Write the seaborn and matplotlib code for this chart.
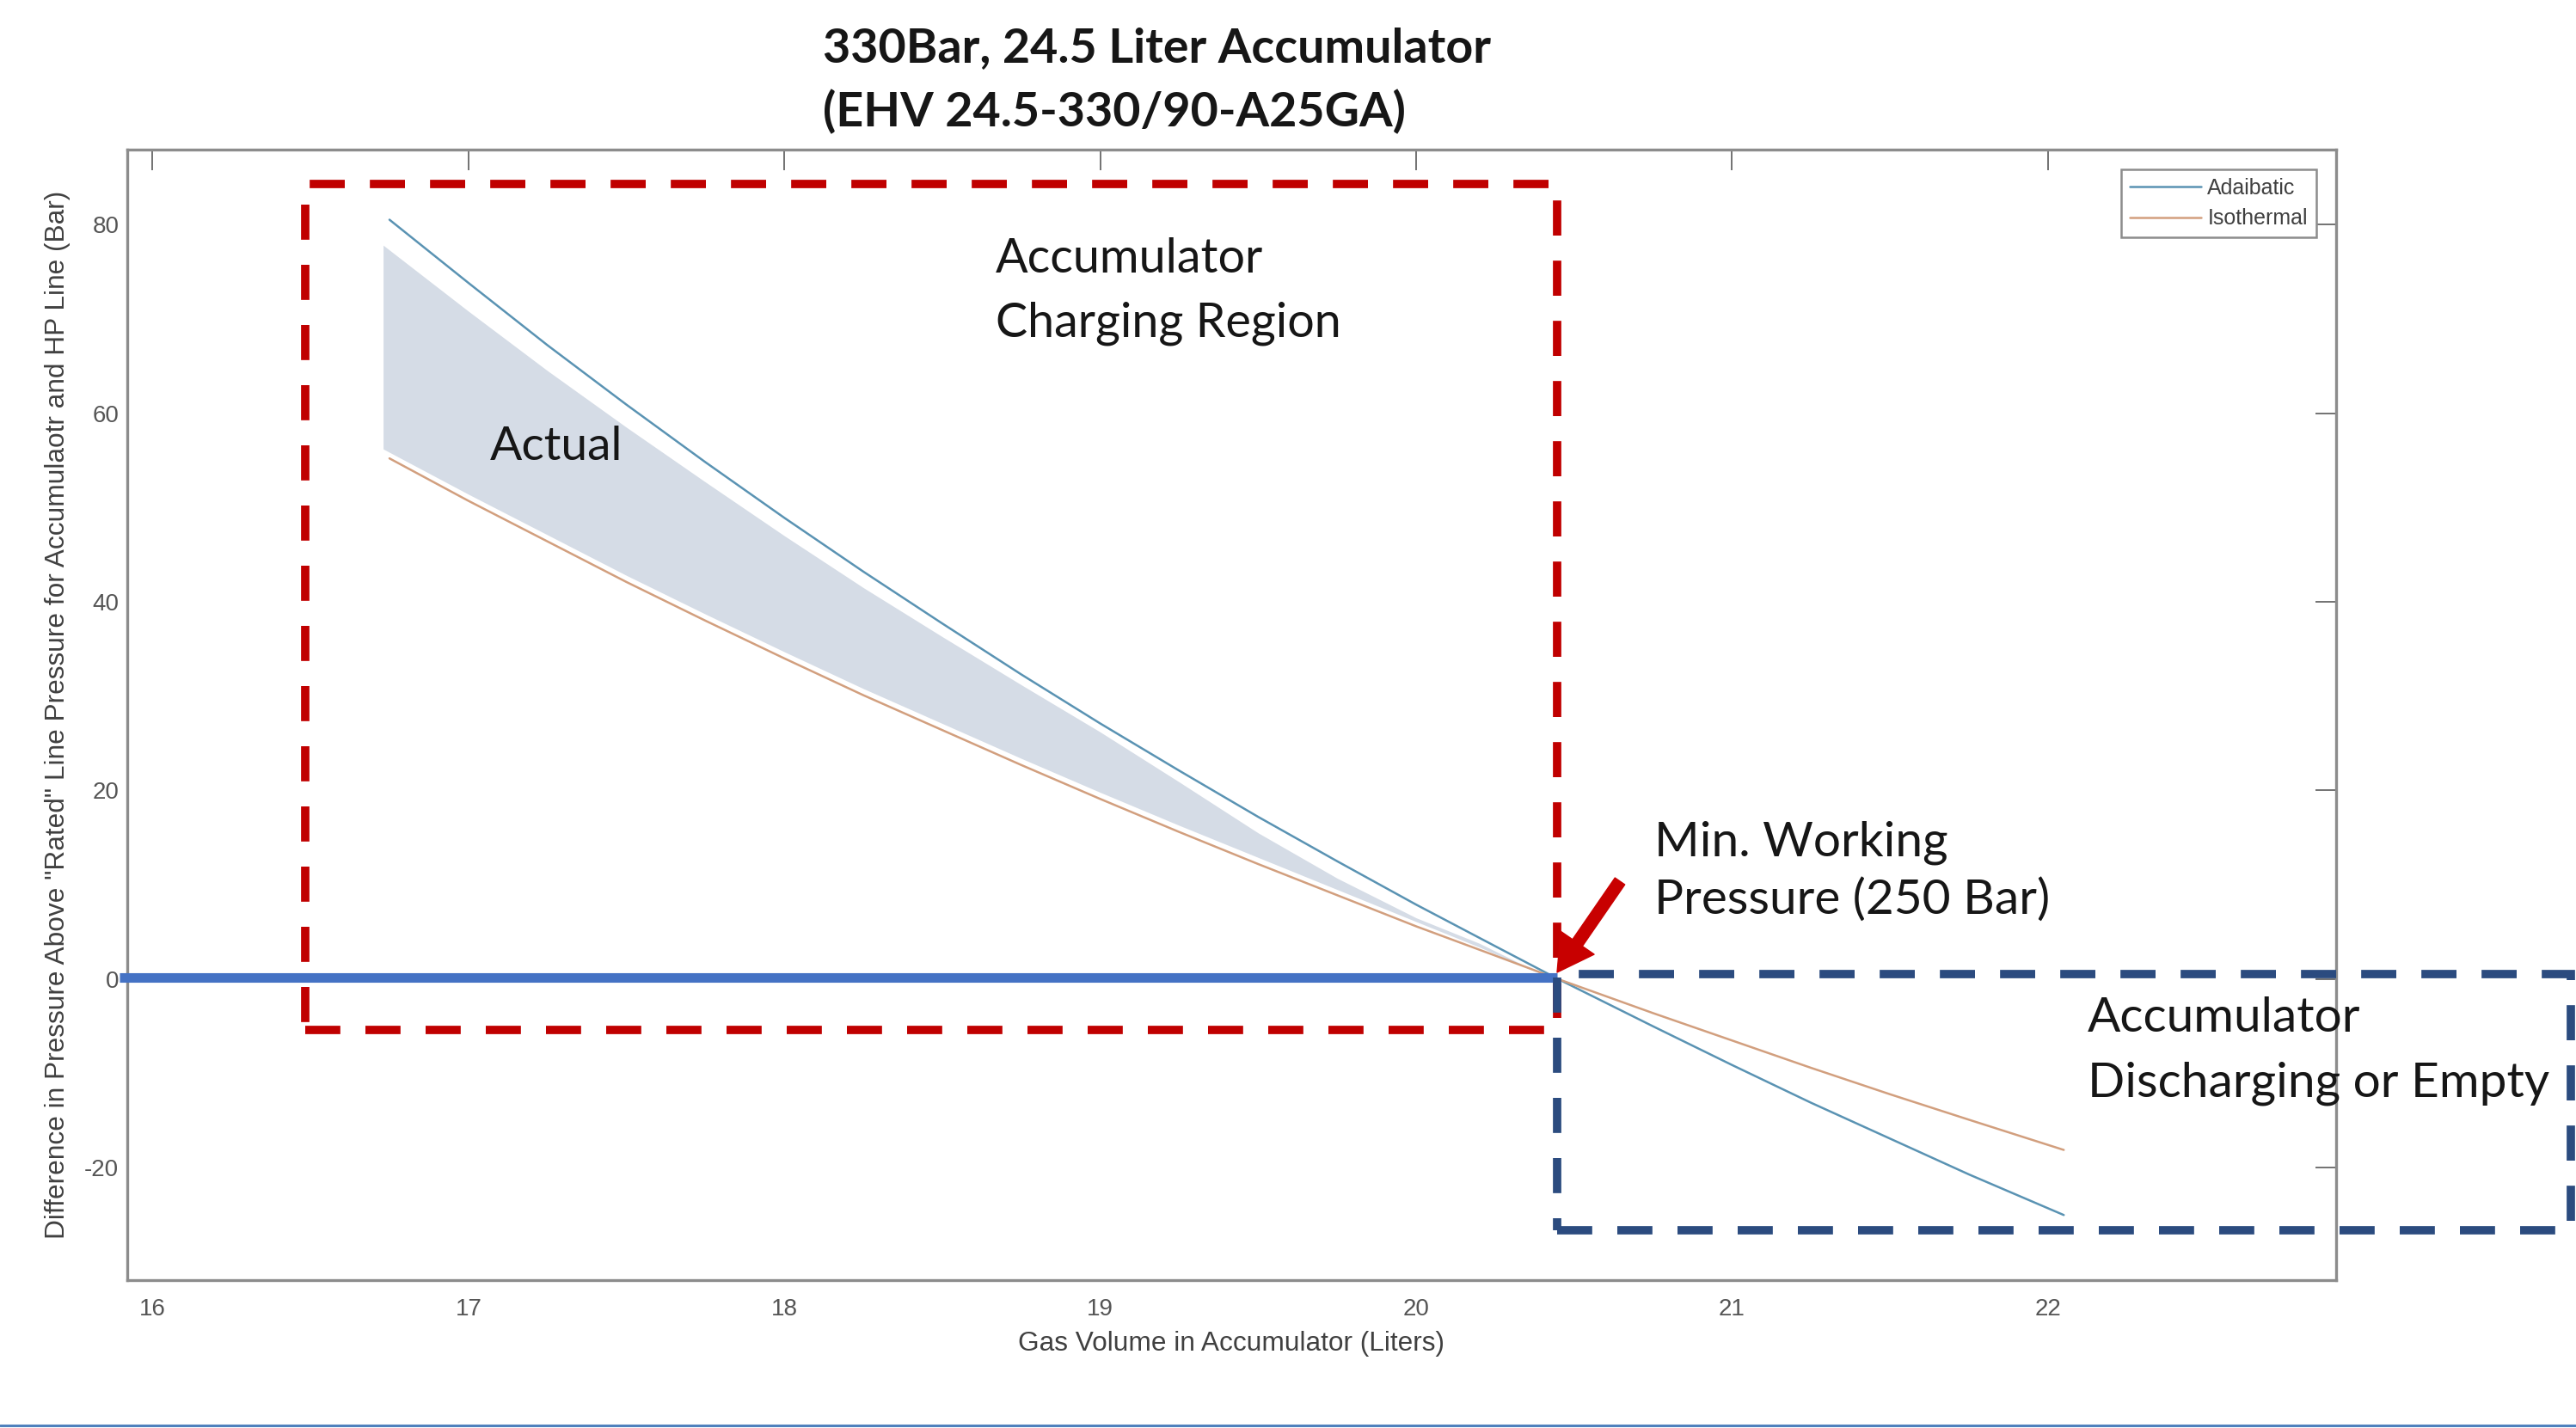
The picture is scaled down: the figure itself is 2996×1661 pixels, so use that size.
import matplotlib
matplotlib.use('Agg')
import matplotlib.pyplot as plt
import seaborn as sns
from matplotlib.patches import Rectangle, FancyArrowPatch, ArrowStyle
from matplotlib.lines import Line2D

# ---------------- data ----------------
gas_volume = [16.75, 17.0, 17.25, 17.5, 17.75, 18.0, 18.25, 18.5, 18.75, 19.0, 19.25,
              19.5, 19.75, 20.0, 20.25, 20.45, 20.75, 21.0, 21.25, 21.5, 21.75, 22.05]
adiabatic = [80.5, 73.8, 67.2, 60.9, 54.8, 48.9, 43.2, 37.7, 32.3, 27.1, 22.1,
             17.2, 12.5, 7.9, 3.5, 0.0, -5.0, -9.1, -13.1, -16.9, -20.7, -25.0]
isothermal = [55.2, 50.7, 46.4, 42.1, 38.0, 34.0, 30.1, 26.4, 22.7, 19.1, 15.6,
              12.2, 8.9, 5.6, 2.5, 0.0, -3.6, -6.5, -9.4, -12.2, -14.9, -18.1]
actual_volume = [16.73, 17.0, 17.25, 17.5, 17.75, 18.0, 18.25, 18.5, 18.75, 19.0, 19.25,
                 19.5, 19.75, 20.0, 20.2, 20.4]
actual_upper = [77.8, 70.8, 64.5, 58.5, 52.7, 47.0, 41.5, 36.3, 31.2, 26.2, 20.9,
                15.5, 10.7, 6.5, 3.8, 0.5]
actual_lower = [56.2, 51.4, 47.1, 42.8, 38.7, 34.7, 30.8, 27.1, 23.4, 19.8, 16.3,
                12.9, 9.5, 6.1, 3.4, 0.5]
x_ticks = [16, 17, 18, 19, 20, 21, 22]
y_ticks = [-20, 0, 20, 40, 60, 80]
series_labels = ['Adaibatic', 'Isothermal']
rated_diff = 0.2
min_working_volume = 20.447

title_lines = ['330Bar, 24.5 Liter Accumulator', '(EHV 24.5-330/90-A25GA)']
x_label = 'Gas Volume in Accumulator (Liters)'
y_label = 'Difference in Pressure Above "Rated" Line Pressure for Accumulaotr and HP Line (Bar)'

# ---------------- style ----------------
sns.set_style('white')
plt.rcParams['font.family'] = ['Liberation Sans', 'DejaVu Sans']

W, H = 2996, 1661
DPI = 100
fig = plt.figure(figsize=(W / DPI, H / DPI), dpi=DPI, facecolor='white')


def fx(px):
    return px / W


def fy(py):
    return 1 - py / H


ax = fig.add_axes([fx(148), fy(1489), (2717 - 148) / W, (1489 - 174) / H])
ax.set_facecolor('white')

ADIA_C = '#5a93b3'
ISO_C = '#d29f7e'

ax.fill_between(actual_volume, actual_lower, actual_upper, color='#d5dce6', lw=0, zorder=1)
sns.lineplot(x=gas_volume, y=adiabatic, ax=ax, color=ADIA_C, lw=1.8, label=series_labels[0], zorder=2)
sns.lineplot(x=gas_volume, y=isothermal, ax=ax, color=ISO_C, lw=1.8, label=series_labels[1], zorder=2)

ax.set_xlim(15.92, 22.912)
ax.set_ylim(-31.9, 87.93)
ax.set_xticks(x_ticks)
ax.set_yticks(y_ticks)
ax.set_xticklabels([str(t) for t in x_ticks])
ax.set_yticklabels([str(t) for t in y_ticks])

for s in ax.spines.values():
    s.set_visible(True)
    s.set_color('#8c8c8c')
    s.set_linewidth(2.4)

ax.tick_params(axis='both', direction='in', top=True, right=True, length=17,
               width=1.2, color='#5a5a5a', labelsize=20, labelcolor='#555555')
ax.tick_params(axis='y', pad=7)
ax.tick_params(axis='x', pad=15)

ax.set_xlabel(x_label, fontsize=20, color='#404040')
ax.set_ylabel(y_label, fontsize=20, color='#404040')
ax.xaxis.set_label_coords(0.5, (1489 - 1563) / (1489 - 174))
ax.xaxis.label.set_va('center')
ax.yaxis.set_label_coords((67 - 148) / (2717 - 148), 0.5)
ax.yaxis.label.set_va('center')

leg = ax.legend(loc='upper right', bbox_to_anchor=(0.991, 0.9825), borderaxespad=0,
                frameon=True, fancybox=False, edgecolor='#8c8c8c', framealpha=1,
                fontsize=18, handlelength=3.3, handletextpad=0.3, labelspacing=0.45,
                borderpad=0.4)
leg.get_frame().set_linewidth(1.8)
for t in leg.get_texts():
    t.set_color('#404040')

# ---------------- overlay annotations ----------------
RED = '#C00000'
NAVY = '#2B4B7F'
dash = (0, (4.2, 3.0))

ax.hlines(rated_diff, 15.895, min_working_volume, colors='#4472C4', lw=8, zorder=4, clip_on=False)

ax.add_patch(Rectangle((16.484, -5.4), min_working_volume - 16.484, 84.3 + 5.4, fill=False,
                       edgecolor=RED, lw=7, linestyle=dash, zorder=5, clip_on=False))
ax.add_patch(Rectangle((min_working_volume, -26.6), 23.655 - min_working_volume, 0.55 + 26.6,
                       fill=False, edgecolor=NAVY, lw=7, linestyle=dash, zorder=5, clip_on=False))

arrow = FancyArrowPatch(posA=(fx(1884), fy(1025)), posB=(fx(1811), fy(1131)),
                        transform=fig.transFigure,
                        arrowstyle=ArrowStyle.Simple(head_length=30, head_width=34, tail_width=10),
                        mutation_scale=1, color='#C80000', shrinkA=0, shrinkB=0, zorder=6)
fig.add_artist(arrow)

# bottom rule of slide
fig.add_artist(Line2D([0, 1], [fy(1658), fy(1658)], transform=fig.transFigure,
                      color='#4f81bd', lw=2.2))

CAL = ['Lato', 'DejaVu Sans']
TXT = '#161616'


def put(px, py, s, bold=False):
    return fig.text(fx(px), fy(py), s, ha='left', va='baseline', fontsize=42,
                    family=CAL, fontweight='bold' if bold else 'normal', color=TXT, zorder=10)


t1 = put(957, 72, title_lines[0], bold=True)
t2 = put(957, 147, title_lines[1], bold=True)
c1 = put(1158, 317, 'Accumulator')
c2 = put(1158, 392, 'Charging Region')
a1 = put(570, 535, 'Actual')
m1 = put(1924, 995, 'Min. Working')
m2 = put(1924, 1063, 'Pressure (250 Bar)')
d1 = put(2428, 1200, 'Accumulator')
d2 = put(2428, 1275, 'Discharging or Empty')

fig.canvas.draw()
r = fig.canvas.get_renderer()


def fit(main, target, others=()):
    for _ in range(3):
        w = main.get_window_extent(r).width
        main.set_fontsize(main.get_fontsize() * target / w)
    for o in others:
        o.set_fontsize(main.get_fontsize())


def fit_pair(a, b, ta, tb):
    for _ in range(3):
        w = a.get_window_extent(r).width + b.get_window_extent(r).width
        fs = a.get_fontsize() * (ta + tb) / w
        a.set_fontsize(fs)
        b.set_fontsize(fs)


fit_pair(t1, t2, 793, 663)
fit(c2, 402, [c1])
fit(m2, 460, [m1])
fit(d2, 536, [d1])
fit(a1, 155)

# fit axis labels
for _ in range(3):
    w = ax.xaxis.label.get_window_extent(r).width
    ax.xaxis.label.set_fontsize(ax.xaxis.label.get_fontsize() * 498 / w)
    h = ax.yaxis.label.get_window_extent(r).height
    ax.yaxis.label.set_fontsize(ax.yaxis.label.get_fontsize() * 1222 / h)

fig.savefig('out.png', dpi=DPI, facecolor='white')
